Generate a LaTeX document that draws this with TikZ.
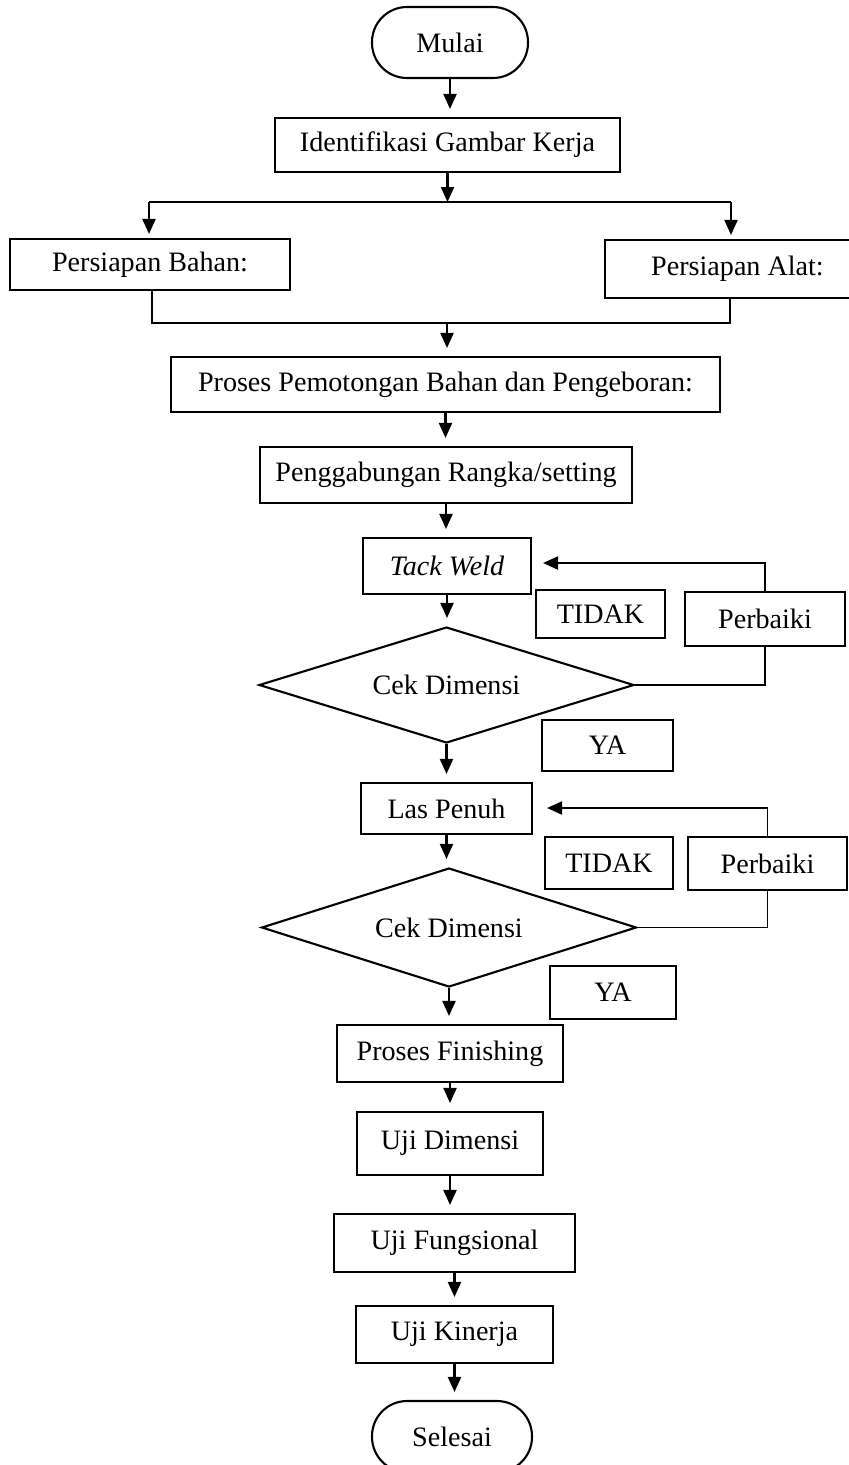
\documentclass[tikz,border=0pt]{standalone}
\usepackage{fontspec}
\setmainfont{Liberation Serif}
\usetikzlibrary{shapes.geometric, arrows.meta}

\begin{document}
\begin{tikzpicture}[x=0.02cm, y=-0.02cm,
    every node/.style={font=\fontsize{16}{19}\selectfont},
    kotak/.style={draw, rectangle, line width=1.2pt, inner sep=0pt},
    terminal/.style={draw, rectangle, rounded corners=0.7cm, line width=1.2pt, minimum width=3.12cm, minimum height=1.42cm},
    cek/.style={draw, diamond, aspect=3.2, line width=1.2pt, inner sep=0pt, minimum width=7.5cm, minimum height=2.32cm},
    panah/.style={-{Triangle[length=0.3cm, width=0.26cm]}, line width=1.2pt, shorten >=0.16cm},
    garis/.style={line width=0.6pt}]
    \useasboundingbox (0,0) rectangle (849,1465);

    \node (mulai) [terminal] at (450,42.5) {Mulai};
    \node (identifikasi) [kotak, minimum width=6.9cm, minimum height=1.08cm] at (447.5,145) {Identifikasi Gambar Kerja};
    \node (bahan) [kotak, minimum width=5.6cm, minimum height=1.02cm] at (150,264.5) {Persiapan Bahan:};
    \node (alat) [kotak, minimum width=5.3cm, minimum height=1.16cm] at (737.5,269) {Persiapan Alat:};
    \node (proses) [kotak, minimum width=10.98cm, minimum height=1.1cm] at (445.5,384.5) {Proses Pemotongan Bahan dan Pengeboran:};
    \node (gabung) [kotak, minimum width=7.44cm, minimum height=1.12cm] at (446,475) {Penggabungan Rangka/setting};
    \node (tack) [kotak, minimum width=3.36cm, minimum height=1.12cm] at (447,566) {\textit{Tack Weld}};
    \node (tidaka) [kotak, minimum width=2.58cm, minimum height=0.96cm] at (600.5,614) {TIDAK};
    \node (perbaikia) [kotak, minimum width=3.2cm, minimum height=1.08cm] at (765,619) {Perbaiki};
    \node (ceka) [cek] at (446.5,685) {Cek Dimensi};
    \node (yaa) [kotak, minimum width=2.62cm, minimum height=1.02cm] at (607.5,745.5) {YA};
    \node (las) [kotak, minimum width=3.42cm, minimum height=1.02cm] at (446.5,808.5) {Las Penuh};
    \node (tidakb) [kotak, minimum width=2.56cm, minimum height=1.04cm] at (609,863) {TIDAK};
    \node (perbaikib) [kotak, minimum width=3.18cm, minimum height=1.06cm] at (767.5,863.5) {Perbaiki};
    \node (cekb) [cek, minimum height=2.38cm] at (449,927.5) {Cek Dimensi};
    \node (yab) [kotak, minimum width=2.52cm, minimum height=1.06cm] at (613,992.5) {YA};
    \node (finishing) [kotak, minimum width=4.52cm, minimum height=1.14cm] at (450,1053.5) {Proses Finishing};
    \node (ujidimensi) [kotak, minimum width=3.72cm, minimum height=1.26cm] at (450,1143.5) {Uji Dimensi};
    \node (ujifungsi) [kotak, minimum width=4.82cm, minimum height=1.16cm] at (454.5,1243) {Uji Fungsional};
    \node (ujikinerja) [kotak, minimum width=3.94cm, minimum height=1.14cm] at (454.5,1334.5) {Uji Kinerja};
    \node (selesai) [terminal, minimum width=3.2cm] at (452,1436.5) {Selesai};

    % cabang ke persiapan bahan dan alat
    \coordinate (cabang) at (447.5,202);
    \coordinate (cabangkiri) at (149,202);
    \coordinate (cabangkanan) at (731,202);
    \coordinate (temu) at (447,323);
    \coordinate (temukiri) at (152,323);
    \coordinate (temukanan) at (730,323);

    \draw[panah] (mulai) -- (mulai |- identifikasi.north);
    \draw[panah, shorten >=0pt] (identifikasi) -- (cabang);
    \draw[garis] (cabangkiri) -- (cabangkanan);
    \draw[panah, shorten >=0.08cm] (cabangkiri) -- (cabangkiri |- bahan.north);
    \draw[panah, shorten >=0.08cm] (cabangkanan) -- (cabangkanan |- alat.north);
    \draw[garis] (bahan.south -| temukiri) -- (temukiri) -- (temukanan) -- (alat.south -| temukanan);
    \draw[panah] (temu) -- (temu |- proses.north);
    \draw[panah] (proses) -- (proses |- gabung.north);
    \draw[panah] (gabung) -- (gabung |- tack.north);
    \draw[panah] (tack) -- (tack |- ceka.north);
    \draw[panah] (ceka) -- (ceka |- las.north);
    \draw[panah] (las) -- (las |- cekb.north);
    \draw[panah] (cekb) -- (cekb |- finishing.north);
    \draw[panah] (finishing) -- (finishing |- ujidimensi.north);
    \draw[panah] (ujidimensi) -- (ujidimensi |- ujifungsi.north);
    \draw[panah] (ujifungsi) -- (ujifungsi |- ujikinerja.north);
    \draw[panah] (ujikinerja) -- (ujikinerja |- selesai.north);

    % perbaikan
    \coordinate (balika) at (700,563);
    \coordinate (balikb) at (702,808);
    \draw[garis] (ceka.east) -| (perbaikia.south);
    \draw[garis] (perbaikia.north) |- (balika);
    \draw[panah, shorten >=0.22cm] (balika) -- (balika -| tack.east);
    \draw[garis] (cekb.east) -| (perbaikib.south);
    \draw[garis] (perbaikib.north) |- (balikb);
    \draw[panah, shorten >=0.28cm] (balikb) -- (balikb -| las.east);
\end{tikzpicture}
\end{document}
